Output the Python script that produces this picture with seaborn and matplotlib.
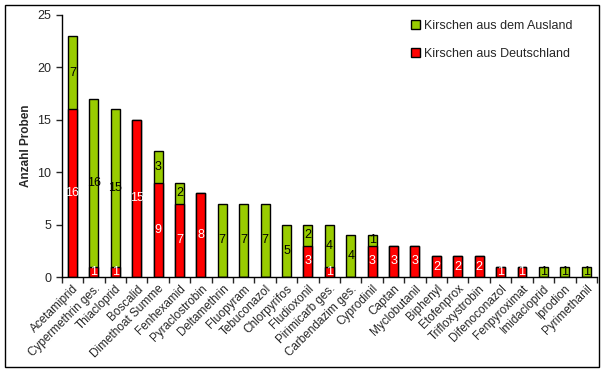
import numpy as np
import pandas as pd
import matplotlib
matplotlib.use("Agg")
import matplotlib.pyplot as plt
import seaborn as sns

sns.set_style("white")
plt.rcParams["font.family"] = ["Liberation Sans", "DejaVu Sans"]

wirkstoffe = ["Acetamiprid", "Cypermethrin ges.", "Thiacloprid", "Boscalid", "Dimethoat Summe",
              "Fenhexamid", "Pyraclostrobin", "Deltamethrin", "Fluopyram", "Tebuconazol",
              "Chlorpyrifos", "Fludioxonil", "Pirimicarb ges.", "Carbendazim ges.", "Cyprodinil",
              "Captan", "Myclobutanil", "Biphenyl", "Etofenprox", "Trifloxystrobin",
              "Difenoconazol", "Fenpyroximat", "Imidacloprid", "Iprodion", "Pyrimethanil"]
deutschland = [16, 1, 1, 15, 9, 7, 8, 0, 0, 0, 0, 3, 1, 0, 3, 3, 3, 2, 2, 2, 1, 1, 0, 0, 0]
ausland = [7, 16, 15, 0, 3, 2, 0, 7, 7, 7, 5, 2, 4, 4, 1, 0, 0, 0, 0, 0, 0, 0, 1, 1, 1]

rot = "#FF0000"
gruen = "#99CC00"

df = pd.DataFrame({"wirkstoff": wirkstoffe, "de": deutschland, "aus": ausland})
df["gesamt"] = df["de"] + df["aus"]

fig = plt.figure(figsize=(6.06, 3.73), dpi=100)
ax = fig.add_axes([0.102, 0.257, 0.883, 0.703])

# green = total height behind, red drawn on top
sns.barplot(data=df, x="wirkstoff", y="gesamt", color=gruen, saturation=1, width=0.42,
            edgecolor="black", linewidth=1, ax=ax, label="Kirschen aus dem Ausland")
sns.barplot(data=df, x="wirkstoff", y="de", color=rot, saturation=1, width=0.42,
            edgecolor="black", linewidth=1, ax=ax, label="Kirschen aus Deutschland")

for i, (d, a) in enumerate(zip(deutschland, ausland)):
    if d > 0:
        ax.text(i, d / 2, str(d), ha="center", va="center", fontsize=9, color="white")
    if a > 0:
        ax.text(i, d + a / 2, str(a), ha="center", va="center", fontsize=9, color="black")

ax.set_ylim(0, 25)
ax.set_xlim(-0.5, len(wirkstoffe) - 0.5)
ax.set_yticks(range(0, 26, 5))
ax.tick_params(axis="y", labelsize=9, length=4, width=1, direction="out", left=True)
ax.set_xticks(range(len(wirkstoffe)))
ax.set_xticklabels(wirkstoffe, rotation=45, ha="right", rotation_mode="anchor", fontsize=8.5)
ax.tick_params(axis="x", which="major", length=0, pad=4)
ax.set_xticks(np.arange(-0.5, len(wirkstoffe), 1), minor=True)
ax.tick_params(axis="x", which="minor", length=4, width=1, direction="out", bottom=True)

ax.set_xlabel("")
ax.set_ylabel("Anzahl Proben", fontsize=8.5, fontweight="bold")
for s in ["top", "right"]:
    ax.spines[s].set_visible(False)
for s in ["left", "bottom"]:
    ax.spines[s].set_color("black")
    ax.spines[s].set_linewidth(1)

ax.legend(loc="upper right", bbox_to_anchor=(0.975, 1.025), frameon=False, fontsize=9,
          handlelength=0.7, handleheight=0.7, labelspacing=1.3, handletextpad=0.3)
leg = ax.get_legend()
for h in leg.legend_handles:
    h.set_edgecolor("black")

fig.patches.append(plt.Rectangle((0.008, 0.016), 0.98, 0.97, transform=fig.transFigure,
                                 fill=False, edgecolor="black", linewidth=1))

fig.savefig("out.png", dpi=100)
